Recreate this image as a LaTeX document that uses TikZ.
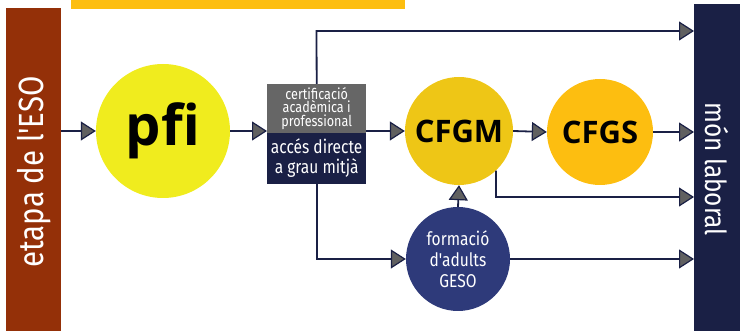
\documentclass[tikz,border=0pt]{standalone}
\usepackage{fontspec}
\setmainfont{Fira Sans}
\newfontfamily\condf[FakeStretch=0.84]{Fira Sans}
\newfontfamily\boldf{Open Sans}
\usetikzlibrary{arrows.meta}
\definecolor{brownbar}{RGB}{148,48,8}
\definecolor{goldbar}{RGB}{253,190,16}
\definecolor{pfiyellow}{RGB}{240,236,30}
\definecolor{cfgmyellow}{RGB}{238,198,22}
\definecolor{navy}{RGB}{26,32,69}
\definecolor{adultblue}{RGB}{46,58,122}
\definecolor{boxgray}{RGB}{102,102,102}
\definecolor{tipgray}{RGB}{96,96,96}
\tikzset{
  bar/.style={inner sep=0pt, anchor=north west},
  circ/.style={circle, inner sep=0pt, align=center},
  big/.style={font=\boldf\bfseries\fontsize{31}{31}\selectfont, text=black},
  boxpart/.style={inner sep=0pt, anchor=north west, minimum width=99pt, text=white, align=center},
  arr/.style={draw=navy, line width=1.8pt, -{Triangle[length=15pt,width=19pt,fill=tipgray,line width=1.2pt]}},
  vlabel/.style={text=white}
}
\begin{document}
\begin{tikzpicture}[x=1pt,y=-1pt]
\useasboundingbox (0,0) rectangle (745,331);
% bars
\node[bar, fill=goldbar, minimum width=334pt, minimum height=8.5pt] (gold) at (71,0) {};
\node[bar, fill=brownbar, minimum width=55pt, minimum height=323pt] (eso) at (6,8) {};
\node[bar, fill=navy, minimum width=46pt, minimum height=327pt] (labor) at (694,4) {};
\node[vlabel, rotate=90, font=\condf\fontsize{35}{35}\selectfont] (esolabel) at (34,172) {etapa de l'ESO};
\node[vlabel, rotate=-90, font=\condf\fontsize{29}{29}\selectfont] (laborlabel) at (717,169) {món laboral};
% circles
\node[circ, fill=pfiyellow, minimum size=134pt, font=\boldf\bfseries\fontsize{56}{56}\selectfont] (pfi) at (163,131) {pfi};
\node[circ, big, fill=cfgmyellow, minimum size=108pt] (cfgm) at (459,131) {CFGM};
\node[circ, big, fill=goldbar, minimum size=106pt] (cfgs) at (600,132) {CFGS};
\node[circ, fill=adultblue, minimum size=104pt, text=white, font=\condf\fontsize{18.5}{21}\selectfont] (adult) at (458,259) {formació\\d'adults\\GESO};
% box
\node[boxpart, fill=boxgray, minimum height=48.5pt, font=\condf\fontsize{15}{13.5}\selectfont] (cert) at (267,84) {certificació\\acadèmica i\\professional};
\node[boxpart, fill=navy, minimum height=51.5pt, font=\condf\fontsize{18.5}{20}\selectfont] (acc) at (267,132.5) {accés directe\\a grau mitjà};
% connectors
\coordinate (toprow) at (316.5,31);
\coordinate (lowrow) at (496,197);
\draw[arr] (eso.east |- pfi.center) -- (pfi.west);
\draw[arr] (pfi.east) -- (pfi.east -| cert.west);
\draw[arr] (cert.east |- cfgm.center) -- (cfgm.west);
\draw[arr] (cfgm.east) -- (cfgs.west);
\draw[arr] (cfgs.east) -- (cfgs.east -| labor.west);
\draw[arr] (cert.north) -- (toprow) -- (toprow -| labor.west);
\draw[arr] (acc.south) |- (adult.west);
\draw[arr] (adult.east) -- (adult.east -| labor.west);
\draw[arr] (adult.north) -- (cfgm.south);
\draw[arr] (cfgm.-47) -- (lowrow) -- (lowrow -| labor.west);
\end{tikzpicture}
\end{document}
